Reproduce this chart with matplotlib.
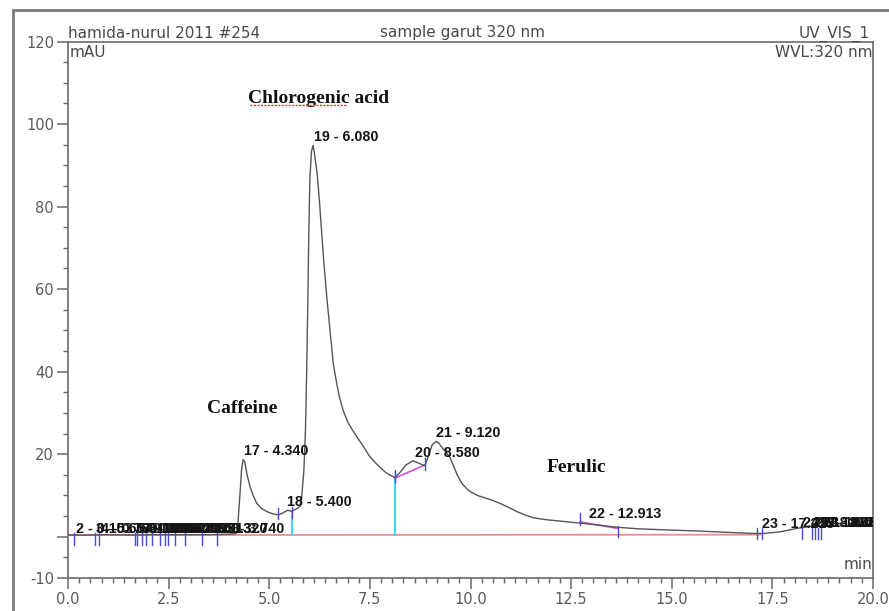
import matplotlib
matplotlib.use("Agg")
import matplotlib.pyplot as plt
import numpy as np
from matplotlib.patches import Rectangle
from matplotlib.lines import Line2D
from matplotlib.ticker import FixedLocator, MultipleLocator
from matplotlib.transforms import ScaledTranslation

# ---------------- data ----------------
time_min = [0.0, 0.5, 1.0, 1.5, 2.0, 2.5, 3.0, 3.5, 4.0, 4.18, 4.22, 4.27, 4.31, 4.35,
            4.39, 4.45, 4.52, 4.60, 4.69, 4.80, 4.94, 5.10, 5.23, 5.35, 5.45, 5.55,
            5.65, 5.76, 5.80, 5.86, 5.90, 5.93, 5.96, 5.98, 6.01, 6.05, 6.09, 6.12,
            6.19, 6.25, 6.30, 6.36, 6.43, 6.50, 6.59, 6.66, 6.74, 6.84, 6.95, 7.07,
            7.17, 7.33, 7.50, 7.70, 7.90, 8.12, 8.25, 8.40, 8.57, 8.72, 8.87, 8.95,
            9.05, 9.15, 9.22, 9.30, 9.40, 9.49, 9.57, 9.66, 9.78, 9.90, 10.00, 10.20,
            10.40, 10.55, 10.73, 10.95, 11.15, 11.35, 11.56, 11.90, 12.22, 12.50,
            12.72, 13.20, 13.63, 14.20, 14.87, 15.62, 16.30, 17.00, 17.30, 17.70,
            18.10, 18.50, 19.00, 19.50, 20.0]
signal_mau = [0.4, 0.4, 0.5, 0.4, 0.5, 0.5, 0.5, 0.5, 0.6, 0.8, 3.0, 10.0, 16.0, 18.7,
              18.2, 15.0, 12.2, 10.0, 8.1, 6.9, 6.1, 5.5, 5.3, 5.8, 6.4, 6.2,
              6.6, 7.3, 9.0, 16.0, 26.0, 40.0, 58.0, 72.0, 87.0, 93.5, 94.8, 93.0,
              88.0, 81.0, 74.0, 66.0, 58.0, 51.0, 42.0, 38.0, 34.0, 30.5, 27.8, 25.8,
              24.3, 22.0, 19.4, 17.3, 15.5, 14.3, 15.6, 17.4, 18.4, 17.8, 17.2, 19.5,
              22.3, 23.1, 22.6, 21.5, 20.4, 19.2, 17.4, 15.2, 13.0, 11.7, 10.9, 9.9,
              9.3, 8.8, 8.1, 7.1, 6.1, 5.3, 4.6, 4.1, 3.8, 3.5,
              3.3, 2.8, 2.3, 1.9, 1.65, 1.4, 1.1, 0.8, 0.8, 1.2,
              2.0, 2.6, 2.6, 2.6, 2.6]

# labelled peaks: number, retention time (min), label anchor height (mAU)
peak_no = [2, 3, 4, 5, 6, 7, 8, 9, 10, 11, 12, 13, 14, 15, 16,
           17, 18, 19, 20, 21, 22, 23, 24, 25, 26, 27, 28]
peak_rt = [0.153, 0.667, 0.780, 1.660, 1.720, 1.833, 1.953, 2.080, 2.293, 2.407,
           2.493, 2.660, 2.913, 3.320, 3.740,
           4.340, 5.400, 6.080, 8.580, 9.120, 12.913, 17.213,
           18.233, 18.480, 18.560, 18.640, 18.720]
peak_h = [0.0] * 15 + [18.7, 6.4, 94.8, 18.4, 23.1, 3.6, 1.2, 1.4, 1.4, 1.4, 1.4, 1.4]

# peak delimiters (time, centre height)
delim_t = [0.15, 0.67, 0.78, 1.66, 1.72, 1.83, 1.95, 2.08, 2.29, 2.41, 2.49, 2.66,
           2.91, 3.32, 3.70, 5.22, 5.57, 8.12, 8.87, 12.72, 13.66, 17.12, 17.24,
           18.23, 18.48, 18.56, 18.64, 18.72]
delim_y = [-0.6] * 15 + [5.6, 5.9, 14.7, 17.6, 4.3, 1.3, 0.8, 0.8,
                         0.8, 0.8, 0.8, 0.8, 0.8]

# baselines
main_base_t = [0.0, 17.2]
main_base_y = [0.4, 0.5]
sub_base_t = [[8.12, 8.87], [12.72, 13.66]]
sub_base_y = [[14.2, 17.4], [3.6, 2.0]]
drop_t = [5.57, 8.12]
drop_top = [5.9, 14.5]

compound_names = ["Chlorogenic acid", "Caffeine", "Ferulic"]
compound_x = [4.47, 3.45, 11.9]
compound_y = [106.2, 31.0, 16.7]

x_ticks = [0.0, 2.5, 5.0, 7.5, 10.0, 12.5, 15.0, 17.5, 20.0]
y_ticks = [-10, 0, 20, 40, 60, 80, 100, 120]
y_ticklabels = ["-10", "", "20", "40", "60", "80", "100", "120"]

# ---------------- figure ----------------
W, H = 889, 611
fig = plt.figure(figsize=(W / 100, H / 100), dpi=100)
fig.patch.set_facecolor("white")

# outer frame (runs off the right/bottom edge)
fig.add_artist(Rectangle((13 / W, -0.2), 1.2, 1.2 - 10 / H,
                         transform=fig.transFigure, fill=False,
                         ec="#7a7a7a", lw=2.0))

ax = fig.add_axes([68 / W, 33 / H, 805 / W, 536.5 / H])
ax.set_xlim(0, 20)
ax.set_ylim(-10, 120)

gray = "#5a5a5a"
for s in ax.spines.values():
    s.set_color("#6a6a6a")
    s.set_linewidth(1.2)

# main baseline (pink)
ax.plot(main_base_t, main_base_y, color="#f08898", lw=1.3, zorder=2)
# sub baselines (magenta)
for bt, by in zip(sub_base_t, sub_base_y):
    ax.plot(bt, by, color="#d050d8", lw=1.2, zorder=2)
# perpendicular drops (cyan)
for t, top in zip(drop_t, drop_top):
    ax.plot([t, t], [main_base_y[0], top], color="#40d8f0", lw=1.5, zorder=2)

# chromatogram
ax.plot(time_min, signal_mau, color="#555555", lw=1.0, zorder=3)

# delimiters
for t, y in zip(delim_t, delim_y):
    ax.plot([t, t], [y - 1.4, y + 1.4], color="#4a4ad8", lw=1.0, zorder=4)

# peak labels
off = ScaledTranslation(1 / 72, 3 / 72, fig.dpi_scale_trans)
for n, rt, h in zip(peak_no, peak_rt, peak_h):
    ax.text(rt, h, f"{n} - {rt:.3f}", transform=ax.transData + off,
            ha="left", va="baseline", fontsize=10.3, fontweight="bold",
            family=["Liberation Sans", "DejaVu Sans"], color="#151515",
            clip_on=True, zorder=5)

# compound names
name_texts = []
for name, x, y in zip(compound_names, compound_x, compound_y):
    t = ax.text(x, y, name, ha="left", va="center", fontsize=14,
                fontweight="bold", family=["Liberation Serif", "DejaVu Serif"],
                color="#111111", zorder=6)
    name_texts.append(t)

# ticks
ax.xaxis.set_major_locator(FixedLocator(x_ticks))
ax.set_xticklabels([f"{v:.1f}" for v in x_ticks])
ax.xaxis.set_minor_locator(MultipleLocator(2.5 / 9))
ax.yaxis.set_major_locator(FixedLocator(y_ticks))
ax.set_yticklabels(y_ticklabels)
ax.yaxis.set_minor_locator(MultipleLocator(5))
ax.tick_params(which="both", direction="out", color="#6a6a6a", labelcolor=gray,
               labelsize=10.5)
ax.tick_params(which="major", length=8, width=1.1, pad=2)
ax.tick_params(which="minor", length=3.6, width=1.0)

# header / corner texts
hdr = dict(fontsize=11, color="#4a4a4a", family="DejaVu Sans")
ax.text(0.0, 1.0 + 4 / 536.5, "hamida-nurul 2011 #254", transform=ax.transAxes,
        ha="left", va="baseline", **hdr)
ax.text(0.3876, 1.0 + 4 / 536.5, "sample garut 320 nm", transform=ax.transAxes,
        ha="left", va="baseline", **hdr)
ax.text(0.9963, 1.0 + 4 / 536.5, "UV_VIS_1", transform=ax.transAxes,
        ha="right", va="baseline", **hdr)
ax.text(0.002, 0.994, "mAU", transform=ax.transAxes, ha="left", va="top", **hdr)
ax.text(0.999, 0.994, "WVL:320 nm", transform=ax.transAxes, ha="right", va="top", **hdr)
ax.text(0.999, 0.012, "min", transform=ax.transAxes, ha="right", va="bottom", **hdr)

# red spell-check underline under "Chlorogenic"
fig.canvas.draw()
bb = name_texts[0].get_window_extent(fig.canvas.get_renderer())
fig.add_artist(Line2D([bb.x0 + 2, bb.x0 + 0.70 * bb.width], [bb.y0 + 2, bb.y0 + 2],
                      transform=None, color="#e03030", lw=1.0,
                      linestyle=(0, (1.5, 1.0))))

fig.savefig("out.png", dpi=100)
